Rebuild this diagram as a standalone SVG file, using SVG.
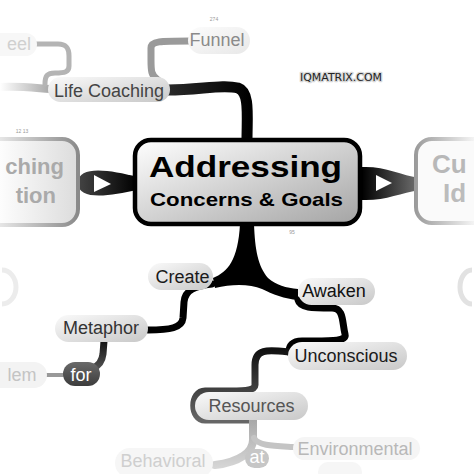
<svg xmlns="http://www.w3.org/2000/svg" width="474" height="474" viewBox="0 0 474 474">
<defs>
<linearGradient id="pill" x1="0" y1="0" x2="1" y2="1"><stop offset="0" stop-color="#fafafa"/><stop offset="1" stop-color="#c8c8c8"/></linearGradient>
<linearGradient id="pillFaint" x1="0" y1="0" x2="1" y2="1"><stop offset="0" stop-color="#fcfcfc"/><stop offset="1" stop-color="#e8e8e8"/></linearGradient>
<linearGradient id="central" x1="0" y1="0" x2="1" y2="1"><stop offset="0" stop-color="#ffffff"/><stop offset="1" stop-color="#a4a4a4"/></linearGradient>
<linearGradient id="leftConn" x1="78" y1="0" x2="137" y2="0" gradientUnits="userSpaceOnUse"><stop offset="0" stop-color="#444"/><stop offset="1" stop-color="#000"/></linearGradient>
<linearGradient id="rightConn" x1="362" y1="0" x2="422" y2="0" gradientUnits="userSpaceOnUse"><stop offset="0" stop-color="#000"/><stop offset="1" stop-color="#777"/></linearGradient>
<linearGradient id="topConn" x1="168" y1="0" x2="250" y2="0" gradientUnits="userSpaceOnUse"><stop offset="0" stop-color="#2a2a2a"/><stop offset="1" stop-color="#000"/></linearGradient>
<linearGradient id="leftNodeStroke" x1="0" y1="0" x2="78" y2="0" gradientUnits="userSpaceOnUse"><stop offset="0" stop-color="#e6e6e6"/><stop offset="1" stop-color="#8a8a8a"/></linearGradient>
<linearGradient id="leftNodeFill" x1="0" y1="0" x2="78" y2="0" gradientUnits="userSpaceOnUse"><stop offset="0" stop-color="#fdfdfd"/><stop offset="1" stop-color="#dcdcdc"/></linearGradient>
<linearGradient id="rightNodeStroke" x1="415" y1="0" x2="474" y2="0" gradientUnits="userSpaceOnUse"><stop offset="0" stop-color="#9a9a9a"/><stop offset="1" stop-color="#f4f4f4"/></linearGradient>
<linearGradient id="incoming" x1="0" y1="0" x2="50" y2="0" gradientUnits="userSpaceOnUse"><stop offset="0" stop-color="#fff"/><stop offset="1" stop-color="#a8a8a8"/></linearGradient>
<linearGradient id="resConn" x1="0" y1="350" x2="0" y2="420" gradientUnits="userSpaceOnUse"><stop offset="0" stop-color="#111"/><stop offset="1" stop-color="#666"/></linearGradient>
<linearGradient id="forConn" x1="0" y1="340" x2="0" y2="370" gradientUnits="userSpaceOnUse"><stop offset="0" stop-color="#111"/><stop offset="1" stop-color="#555"/></linearGradient>
<linearGradient id="forFill" x1="0" y1="0" x2="0" y2="1"><stop offset="0" stop-color="#6a6a6a"/><stop offset="1" stop-color="#3c3c3c"/></linearGradient>
<linearGradient id="atConn" x1="0" y1="420" x2="0" y2="474" gradientUnits="userSpaceOnUse"><stop offset="0" stop-color="#a8a8a8"/><stop offset="1" stop-color="#dcdcdc"/></linearGradient>
</defs>
<style>
.lbl{font-family:"Liberation Sans",Arial,sans-serif;font-size:18px;text-anchor:middle}
.big{font-family:"Liberation Sans",Arial,sans-serif;font-weight:bold}
.tiny{font-family:"Liberation Sans",Arial,sans-serif;font-size:5px;fill:#999;text-anchor:middle}
.br{fill:none;stroke-linecap:round;stroke-linejoin:round}
</style>
<rect width="474" height="474" fill="#fff"/>

<g id="connectors">
  <path class="br" d="M0 87 C20 86 35 88 50 89" stroke="url(#incoming)" stroke-width="8"/>
  <path class="br" d="M35 44 L58 44 C68 44 69 50 69 56 L69 66 C69 72 65 73 55 73 C47 73 45 76 45 84" stroke="#b4b4b4" stroke-width="5"/>
  <path class="br" d="M158 80 C151 76 151 70 151 60 L151 48 C151 41 160 41 190 41" stroke="#9a9a9a" stroke-width="7"/>
  <path class="br" d="M168 90 C200 90 222 84 238 88 C250 92 247 115 247 140" stroke="url(#topConn)" stroke-width="11"/>
  <path d="M78 183 C78 165 110 170 137 177 L137 190 C110 196 78 201 78 183 Z" fill="url(#leftConn)"/>
  <polygon points="94,175 94,192 111,184" fill="#fff"/>
  <path d="M362 167 C385 166 400 175 420 178 A6 6 0 0 1 420 190 C400 193 385 201 362 200 Z" fill="url(#rightConn)"/>
  <polygon points="376,175 376,191 392,183" fill="#fff"/>
  <path d="M240 224 L254 224 C255 250 258 266 268 278 C276 285 286 288 298 289 L298 300 C285 299 272 294 262 289 C250 284 232 284 215 288 L213 278 C228 272 238 260 240 224 Z" fill="#000"/>
  <path class="br" d="M212 284 C195 286 185 290 184 302 L183 318 C182 328 170 330 148 330" stroke="#000" stroke-width="7"/>
  <path class="br" d="M104 341 L103 354 C102 362 98 366 93 368" stroke="url(#forConn)" stroke-width="7"/>
  <path class="br" d="M47 375 L63 375" stroke="#999" stroke-width="4"/>
  <path class="br" d="M298 300 C300 308 312 308 332 308 C344 308 342 322 345 334 C347 342 330 341 302 341 C292 341 289 346 289 352" stroke="#000" stroke-width="7"/>
  <path class="br" d="M290 352 C268 350 255 348 255 365 L255 385 C255 392 240 391 205 391 C190 391 190 420 205 420 L252 420" stroke="url(#resConn)" stroke-width="7"/>
  <path class="br" d="M253 420 L253 440 C253 452 240 462 215 465" stroke="url(#atConn)" stroke-width="8"/>
  <path class="br" d="M254 438 C258 446 275 446 293 447" stroke="#c4c4c4" stroke-width="6"/>
</g>

<g id="node-left">
  <rect x="-30" y="139" width="108" height="86" rx="16" fill="url(#leftNodeFill)" stroke="url(#leftNodeStroke)" stroke-width="4"/>
  <text class="big" x="64" y="174" font-size="22" fill="#aaa" text-anchor="end">ching</text>
  <text class="big" x="56" y="203" font-size="22" fill="#aaa" text-anchor="end">tion</text>
  <text class="tiny" x="22" y="133">12  13</text>
</g>

<g id="node-right">
  <rect x="416" y="139" width="100" height="84" rx="16" fill="#fafafa" stroke="url(#rightNodeStroke)" stroke-width="4"/>
  <text class="big" x="432" y="173" font-size="26" fill="#b8b8b8">Cu</text>
  <text class="big" x="443" y="202" font-size="26" fill="#bcbcbc">Id</text>
</g>

<g id="node-central">
  <rect x="135" y="140" width="225" height="84" rx="16" fill="url(#central)" stroke="#000" stroke-width="4.5"/>
  <text class="big" x="149" y="177" font-size="30" fill="#000" textLength="193" lengthAdjust="spacingAndGlyphs">Addressing</text>
  <text class="big" x="150" y="206" font-size="19" fill="#000" textLength="193" lengthAdjust="spacingAndGlyphs">Concerns &amp; Goals</text>
  <text class="tiny" x="292" y="234">95</text>
</g>

<g id="node-life-coaching">
  <rect x="48" y="77" width="122" height="25" rx="12.5" fill="url(#pill)"/>
  <text class="lbl" x="109" y="97" fill="#444">Life Coaching</text>
</g>

<g id="node-funnel">
  <rect x="188" y="27" width="62" height="27" rx="13.5" fill="url(#pillFaint)"/>
  <text class="lbl" x="217" y="46" fill="#8a8a8a">Funnel</text>
  <text class="tiny" x="214" y="21">274</text>
</g>

<g id="node-eel">
  <rect x="-12" y="33" width="49" height="23" rx="11.5" fill="#f7f7f7"/>
  <text class="lbl" x="19" y="50" fill="#d0d0d0">eel</text>
</g>

<g id="node-create">
  <rect x="148" y="263" width="65" height="27" rx="13.5" fill="url(#pill)"/>
  <text class="lbl" x="182.5" y="283" fill="#1a1a1a">Create</text>
</g>

<g id="node-awaken">
  <rect x="298" y="278" width="77" height="27" rx="13.5" fill="url(#pill)"/>
  <text class="lbl" x="334" y="297" fill="#111">Awaken</text>
</g>

<g id="node-unconscious">
  <rect x="288" y="342" width="119" height="28" rx="14" fill="url(#pill)"/>
  <text class="lbl" x="346" y="362" fill="#1a1a1a">Unconscious</text>
</g>

<g id="node-metaphor">
  <rect x="55" y="315" width="93" height="27" rx="13.5" fill="url(#pill)"/>
  <text class="lbl" x="101" y="334" fill="#333">Metaphor</text>
</g>

<g id="node-for">
  <rect x="63" y="362" width="37" height="24" rx="12" fill="url(#forFill)"/>
  <text class="lbl" x="81" y="381" fill="#fff" font-size="16">for</text>
</g>

<g id="node-lem">
  <rect x="-12" y="362" width="59" height="26" rx="13" fill="#f3f3f3"/>
  <text class="lbl" x="22" y="381" fill="#c4c4c4">lem</text>
</g>

<g id="node-resources">
  <rect x="195" y="392" width="113" height="28" rx="14" fill="url(#pill)"/>
  <text class="lbl" x="251.5" y="412" fill="#555" font-size="19">Resources</text>
</g>

<g id="node-at">
  <rect x="245" y="449" width="24" height="19" rx="9.5" fill="#c6c6c6"/>
  <text class="lbl" x="257" y="463" fill="#fff" font-size="14">at</text>
</g>

<g id="node-environmental">
  <rect x="293" y="437" width="127" height="23" rx="11.5" fill="#f5f5f5"/>
  <text class="lbl" x="355" y="455" fill="#b8b8b8">Environmental</text>
  <rect x="318" y="462" width="44" height="20" rx="10" fill="#f6f6f6"/>
</g>

<g id="node-behavioral">
  <rect x="115" y="448" width="98" height="30" rx="15" fill="#f6f6f6"/>
  <text class="lbl" x="163" y="467" fill="#cfcfcf">Behavioral</text>
</g>

<g id="node-faint-left">
  <path d="M2 270 A14 17 0 0 1 2 304" fill="none" stroke="#ececec" stroke-width="5"/>
</g>
<g id="node-faint-right">
  <path d="M472 270 A12 17 0 0 0 472 304" fill="none" stroke="#e2e2e2" stroke-width="5"/>
</g>

<g id="logo">
  <text x="300" y="81" font-family="'DejaVu Sans',sans-serif" font-size="10" fill="#222" stroke="#d8d8d8" stroke-width="2.5" paint-order="stroke" stroke-linejoin="round" textLength="82" lengthAdjust="spacingAndGlyphs">IQMATRIX.COM</text>
</g>
</svg>
